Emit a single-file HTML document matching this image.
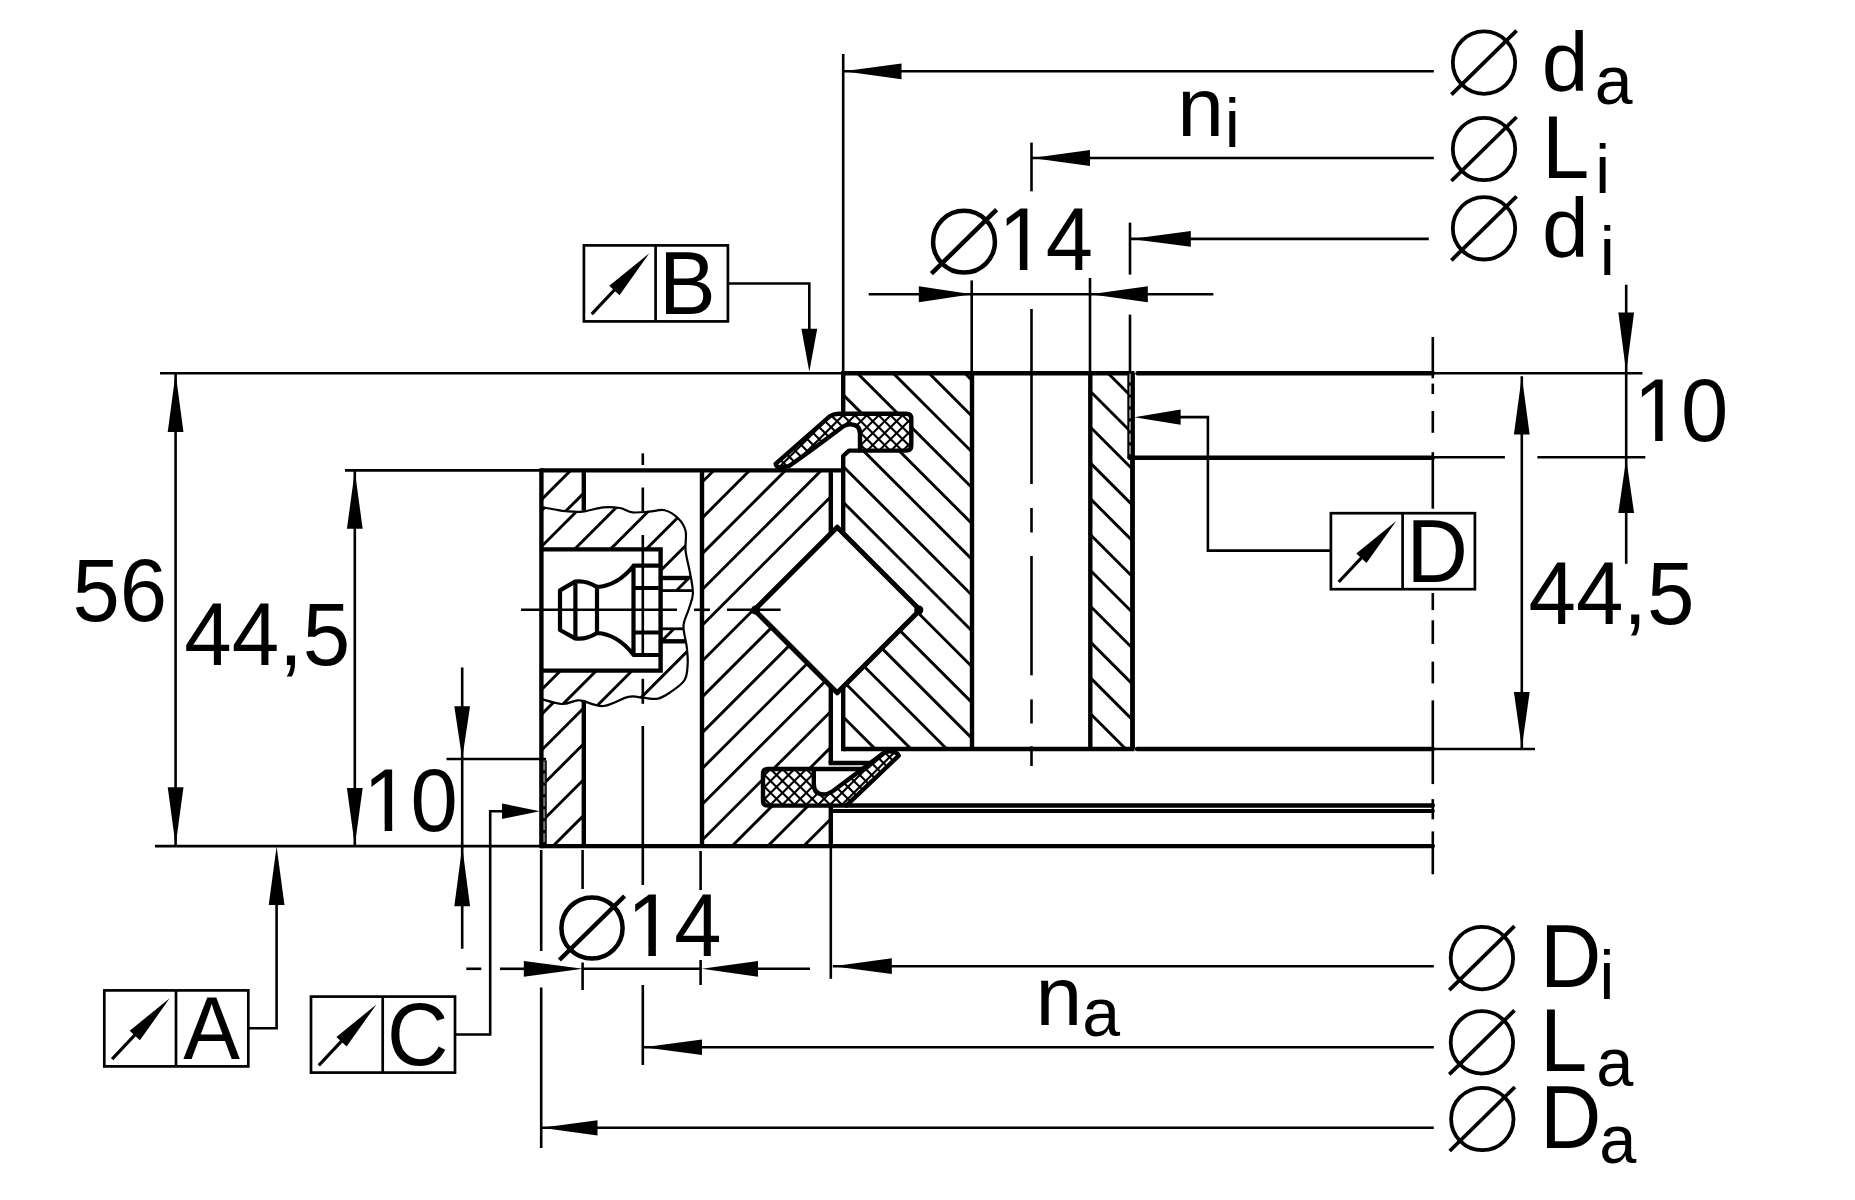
<!DOCTYPE html>
<html><head><meta charset="utf-8"><title>Crossed roller bearing drawing</title>
<style>html,body{margin:0;padding:0;background:#fff;overflow:hidden}svg{display:block}text{font-family:"Liberation Sans",sans-serif;fill:#000;stroke:none}</style>
</head><body>
<svg width="1855" height="1200" viewBox="0 0 1855 1200" stroke="#000" fill="none" stroke-linecap="butt">
<rect x="0" y="0" width="1855" height="1200" fill="#fff" stroke="none"/>
<defs>
<clipPath id="cO1"><path d="M702.0,470.4 L830.8,470.4 L830.8,533.60 L754.40,610.0 L830.8,686.40 L830.8,769 L763,769 L763,806 L830.8,806 L830.8,846.1 L702.0,846.1 Z"/></clipPath>
<clipPath id="cO2"><path d="M541.4,470.4 L583.8,470.4 L583.8,511.6 L565.8,511.2 L555,509.5 L541.4,506.9 Z M541.4,698.9 L561.7,704 L576,700.6 L583.8,700.8 L583.8,846.1 L541.4,846.1 Z"/></clipPath>
<clipPath id="cW"><path d="M541.00,506.90 C543.33,507.33 550.87,508.78 555.00,509.50 C559.13,510.22 561.22,510.85 565.80,511.20 C570.38,511.55 576.25,512.25 582.50,511.60 C588.75,510.95 597.05,507.90 603.30,507.30 C609.55,506.70 615.13,507.17 620.00,508.00 C624.87,508.83 627.67,511.68 632.50,512.30 C637.33,512.92 643.62,512.05 649.00,511.70 C654.38,511.35 659.92,509.07 664.80,510.20 C669.68,511.33 674.83,515.03 678.30,518.50 C681.77,521.97 684.38,525.62 685.60,531.00 C686.82,536.38 684.90,544.02 685.60,550.80 C686.30,557.58 688.58,564.58 689.80,571.70 C691.02,578.82 693.07,587.25 692.90,593.50 C692.73,599.75 690.32,603.82 688.75,609.20 C687.18,614.58 683.84,619.55 683.50,625.80 C683.16,632.05 686.00,640.45 686.70,646.70 C687.40,652.95 688.05,657.75 687.70,663.30 C687.35,668.85 687.55,675.13 684.60,680.00 C681.65,684.87 674.52,689.38 670.00,692.50 C665.48,695.62 662.00,697.88 657.50,698.75 C653.00,699.62 647.87,698.01 643.00,697.70 C638.13,697.39 634.92,695.52 628.30,696.90 C621.68,698.28 610.93,705.35 603.30,706.00 C595.67,706.65 587.05,701.70 582.50,700.80 C577.95,699.90 579.47,700.07 576.00,700.60 C572.53,701.13 567.53,704.28 561.70,704.00 C555.87,703.72 544.45,699.75 541.00,698.90 Z"/></clipPath>
<clipPath id="cWH"><path clip-rule="evenodd" d="M500,480 L720,480 L720,730 L500,730 Z M536.4,549.4 L660.6,549.4 L660.6,590.6 L705,590.6 L705,628.8 L660.6,628.8 L660.6,670.6 L536.4,670.6 Z"/></clipPath>
<clipPath id="cI1"><path d="M843.2,373.3 L972.0,373.3 L972.0,749.0 L843.2,749.0 L843.2,686.80 L920.00,610.0 L843.2,533.20 L843.2,456 L849,450.6 L911.3,450.6 L911.3,413.8 L843.2,413.8 Z"/></clipPath>
<clipPath id="cI2"><rect x="1090.3" y="373.3" width="38.200000000000045" height="84.5"/><rect x="1090.3" y="457.8" width="42.200000000000045" height="291.2"/></clipPath>
<clipPath id="cSU"><path d="M775.6,463.8 L830,416.2 Q834,413.8 838.8,413.8 L906.3,413.8 Q911.3,413.8 911.3,418.8 L911.3,445.6 Q911.3,450.6 906.3,450.6 L860,450.6 L860,433.5 Q860,424.4 850,424.4 Q846,424.4 841,428 Q812,450 788.8,466.2 L780,467.6 Q776,467 775.6,463.8 Z"/></clipPath>
<clipPath id="cSL"><path d="M768,769 L813.8,769 L813.8,784 Q813.8,794.4 823.8,794.4 Q828,794.4 833,791 L885,752 L890,751.2 Q897.5,752 898.8,755.6 L846.3,805.6 L768,805.6 Q763,805.6 763,800.6 L763,774 Q763,769 768,769 Z"/></clipPath>
</defs>
<g clip-path="url(#cO1)" stroke-width="2.9">
<line x1="647.70" y1="465.00" x2="262.70" y2="850.00" stroke-width="2.9" />
<line x1="683.50" y1="465.00" x2="298.50" y2="850.00" stroke-width="2.9" />
<line x1="719.30" y1="465.00" x2="334.30" y2="850.00" stroke-width="2.9" />
<line x1="755.10" y1="465.00" x2="370.10" y2="850.00" stroke-width="2.9" />
<line x1="790.90" y1="465.00" x2="405.90" y2="850.00" stroke-width="2.9" />
<line x1="826.70" y1="465.00" x2="441.70" y2="850.00" stroke-width="2.9" />
<line x1="862.50" y1="465.00" x2="477.50" y2="850.00" stroke-width="2.9" />
<line x1="898.30" y1="465.00" x2="513.30" y2="850.00" stroke-width="2.9" />
<line x1="934.10" y1="465.00" x2="549.10" y2="850.00" stroke-width="2.9" />
<line x1="969.90" y1="465.00" x2="584.90" y2="850.00" stroke-width="2.9" />
<line x1="1005.70" y1="465.00" x2="620.70" y2="850.00" stroke-width="2.9" />
<line x1="1041.50" y1="465.00" x2="656.50" y2="850.00" stroke-width="2.9" />
<line x1="1077.30" y1="465.00" x2="692.30" y2="850.00" stroke-width="2.9" />
<line x1="1113.10" y1="465.00" x2="728.10" y2="850.00" stroke-width="2.9" />
<line x1="1148.90" y1="465.00" x2="763.90" y2="850.00" stroke-width="2.9" />
<line x1="1184.70" y1="465.00" x2="799.70" y2="850.00" stroke-width="2.9" />
<line x1="1220.50" y1="465.00" x2="835.50" y2="850.00" stroke-width="2.9" />
<line x1="1256.30" y1="465.00" x2="871.30" y2="850.00" stroke-width="2.9" />
</g>
<g clip-path="url(#cO2)" stroke-width="2.9">
<line x1="468.70" y1="465.00" x2="83.70" y2="850.00" stroke-width="2.9" />
<line x1="504.50" y1="465.00" x2="119.50" y2="850.00" stroke-width="2.9" />
<line x1="540.30" y1="465.00" x2="155.30" y2="850.00" stroke-width="2.9" />
<line x1="576.10" y1="465.00" x2="191.10" y2="850.00" stroke-width="2.9" />
<line x1="611.90" y1="465.00" x2="226.90" y2="850.00" stroke-width="2.9" />
<line x1="647.70" y1="465.00" x2="262.70" y2="850.00" stroke-width="2.9" />
<line x1="683.50" y1="465.00" x2="298.50" y2="850.00" stroke-width="2.9" />
<line x1="719.30" y1="465.00" x2="334.30" y2="850.00" stroke-width="2.9" />
<line x1="755.10" y1="465.00" x2="370.10" y2="850.00" stroke-width="2.9" />
<line x1="790.90" y1="465.00" x2="405.90" y2="850.00" stroke-width="2.9" />
<line x1="826.70" y1="465.00" x2="441.70" y2="850.00" stroke-width="2.9" />
<line x1="862.50" y1="465.00" x2="477.50" y2="850.00" stroke-width="2.9" />
<line x1="898.30" y1="465.00" x2="513.30" y2="850.00" stroke-width="2.9" />
<line x1="934.10" y1="465.00" x2="549.10" y2="850.00" stroke-width="2.9" />
<line x1="969.90" y1="465.00" x2="584.90" y2="850.00" stroke-width="2.9" />
<line x1="1005.70" y1="465.00" x2="620.70" y2="850.00" stroke-width="2.9" />
<line x1="1041.50" y1="465.00" x2="656.50" y2="850.00" stroke-width="2.9" />
</g>
<g clip-path="url(#cWH)">
<g clip-path="url(#cW)" stroke-width="2.9">
<line x1="480.60" y1="500.00" x2="270.60" y2="710.00" stroke-width="2.9" />
<line x1="516.40" y1="500.00" x2="306.40" y2="710.00" stroke-width="2.9" />
<line x1="552.20" y1="500.00" x2="342.20" y2="710.00" stroke-width="2.9" />
<line x1="588.00" y1="500.00" x2="378.00" y2="710.00" stroke-width="2.9" />
<line x1="623.80" y1="500.00" x2="413.80" y2="710.00" stroke-width="2.9" />
<line x1="659.60" y1="500.00" x2="449.60" y2="710.00" stroke-width="2.9" />
<line x1="695.40" y1="500.00" x2="485.40" y2="710.00" stroke-width="2.9" />
<line x1="731.20" y1="500.00" x2="521.20" y2="710.00" stroke-width="2.9" />
<line x1="767.00" y1="500.00" x2="557.00" y2="710.00" stroke-width="2.9" />
<line x1="802.80" y1="500.00" x2="592.80" y2="710.00" stroke-width="2.9" />
<line x1="838.60" y1="500.00" x2="628.60" y2="710.00" stroke-width="2.9" />
<line x1="874.40" y1="500.00" x2="664.40" y2="710.00" stroke-width="2.9" />
<line x1="910.20" y1="500.00" x2="700.20" y2="710.00" stroke-width="2.9" />
<line x1="946.00" y1="500.00" x2="736.00" y2="710.00" stroke-width="2.9" />
</g>
</g>
<g clip-path="url(#cI1)" stroke-width="2.9">
<line x1="388.80" y1="370.00" x2="770.80" y2="752.00" stroke-width="2.9" />
<line x1="424.60" y1="370.00" x2="806.60" y2="752.00" stroke-width="2.9" />
<line x1="460.40" y1="370.00" x2="842.40" y2="752.00" stroke-width="2.9" />
<line x1="496.20" y1="370.00" x2="878.20" y2="752.00" stroke-width="2.9" />
<line x1="532.00" y1="370.00" x2="914.00" y2="752.00" stroke-width="2.9" />
<line x1="567.80" y1="370.00" x2="949.80" y2="752.00" stroke-width="2.9" />
<line x1="603.60" y1="370.00" x2="985.60" y2="752.00" stroke-width="2.9" />
<line x1="639.40" y1="370.00" x2="1021.40" y2="752.00" stroke-width="2.9" />
<line x1="675.20" y1="370.00" x2="1057.20" y2="752.00" stroke-width="2.9" />
<line x1="711.00" y1="370.00" x2="1093.00" y2="752.00" stroke-width="2.9" />
<line x1="746.80" y1="370.00" x2="1128.80" y2="752.00" stroke-width="2.9" />
<line x1="782.60" y1="370.00" x2="1164.60" y2="752.00" stroke-width="2.9" />
<line x1="818.40" y1="370.00" x2="1200.40" y2="752.00" stroke-width="2.9" />
<line x1="854.20" y1="370.00" x2="1236.20" y2="752.00" stroke-width="2.9" />
<line x1="890.00" y1="370.00" x2="1272.00" y2="752.00" stroke-width="2.9" />
<line x1="925.80" y1="370.00" x2="1307.80" y2="752.00" stroke-width="2.9" />
<line x1="961.60" y1="370.00" x2="1343.60" y2="752.00" stroke-width="2.9" />
<line x1="997.40" y1="370.00" x2="1379.40" y2="752.00" stroke-width="2.9" />
<line x1="1033.20" y1="370.00" x2="1415.20" y2="752.00" stroke-width="2.9" />
</g>
<g clip-path="url(#cI2)" stroke-width="2.9">
<line x1="639.40" y1="370.00" x2="1021.40" y2="752.00" stroke-width="2.9" />
<line x1="675.20" y1="370.00" x2="1057.20" y2="752.00" stroke-width="2.9" />
<line x1="711.00" y1="370.00" x2="1093.00" y2="752.00" stroke-width="2.9" />
<line x1="746.80" y1="370.00" x2="1128.80" y2="752.00" stroke-width="2.9" />
<line x1="782.60" y1="370.00" x2="1164.60" y2="752.00" stroke-width="2.9" />
<line x1="818.40" y1="370.00" x2="1200.40" y2="752.00" stroke-width="2.9" />
<line x1="854.20" y1="370.00" x2="1236.20" y2="752.00" stroke-width="2.9" />
<line x1="890.00" y1="370.00" x2="1272.00" y2="752.00" stroke-width="2.9" />
<line x1="925.80" y1="370.00" x2="1307.80" y2="752.00" stroke-width="2.9" />
<line x1="961.60" y1="370.00" x2="1343.60" y2="752.00" stroke-width="2.9" />
<line x1="997.40" y1="370.00" x2="1379.40" y2="752.00" stroke-width="2.9" />
<line x1="1033.20" y1="370.00" x2="1415.20" y2="752.00" stroke-width="2.9" />
<line x1="1069.00" y1="370.00" x2="1451.00" y2="752.00" stroke-width="2.9" />
<line x1="1104.80" y1="370.00" x2="1486.80" y2="752.00" stroke-width="2.9" />
<line x1="1140.60" y1="370.00" x2="1522.60" y2="752.00" stroke-width="2.9" />
<line x1="1176.40" y1="370.00" x2="1558.40" y2="752.00" stroke-width="2.9" />
</g>
<path d="M775.6,463.8 L830,416.2 Q834,413.8 838.8,413.8 L906.3,413.8 Q911.3,413.8 911.3,418.8 L911.3,445.6 Q911.3,450.6 906.3,450.6 L860,450.6 L860,433.5 Q860,424.4 850,424.4 Q846,424.4 841,428 Q812,450 788.8,466.2 L780,467.6 Q776,467 775.6,463.8 Z" stroke-width="0" fill="#fff" stroke="none"/>
<g clip-path="url(#cSU)" stroke-width="2.1">
<line x1="753.10" y1="410.00" x2="693.10" y2="470.00" stroke-width="2.1" />
<line x1="765.00" y1="410.00" x2="705.00" y2="470.00" stroke-width="2.1" />
<line x1="776.90" y1="410.00" x2="716.90" y2="470.00" stroke-width="2.1" />
<line x1="788.80" y1="410.00" x2="728.80" y2="470.00" stroke-width="2.1" />
<line x1="800.70" y1="410.00" x2="740.70" y2="470.00" stroke-width="2.1" />
<line x1="812.60" y1="410.00" x2="752.60" y2="470.00" stroke-width="2.1" />
<line x1="824.50" y1="410.00" x2="764.50" y2="470.00" stroke-width="2.1" />
<line x1="836.40" y1="410.00" x2="776.40" y2="470.00" stroke-width="2.1" />
<line x1="848.30" y1="410.00" x2="788.30" y2="470.00" stroke-width="2.1" />
<line x1="860.20" y1="410.00" x2="800.20" y2="470.00" stroke-width="2.1" />
<line x1="872.10" y1="410.00" x2="812.10" y2="470.00" stroke-width="2.1" />
<line x1="884.00" y1="410.00" x2="824.00" y2="470.00" stroke-width="2.1" />
<line x1="895.90" y1="410.00" x2="835.90" y2="470.00" stroke-width="2.1" />
<line x1="907.80" y1="410.00" x2="847.80" y2="470.00" stroke-width="2.1" />
<line x1="919.70" y1="410.00" x2="859.70" y2="470.00" stroke-width="2.1" />
<line x1="931.60" y1="410.00" x2="871.60" y2="470.00" stroke-width="2.1" />
<line x1="943.50" y1="410.00" x2="883.50" y2="470.00" stroke-width="2.1" />
<line x1="955.40" y1="410.00" x2="895.40" y2="470.00" stroke-width="2.1" />
<line x1="967.30" y1="410.00" x2="907.30" y2="470.00" stroke-width="2.1" />
<line x1="979.20" y1="410.00" x2="919.20" y2="470.00" stroke-width="2.1" />
<line x1="991.10" y1="410.00" x2="931.10" y2="470.00" stroke-width="2.1" />
</g>
<g clip-path="url(#cSU)" stroke-width="2.1">
<line x1="694.90" y1="410.00" x2="754.90" y2="470.00" stroke-width="2.1" />
<line x1="706.80" y1="410.00" x2="766.80" y2="470.00" stroke-width="2.1" />
<line x1="718.70" y1="410.00" x2="778.70" y2="470.00" stroke-width="2.1" />
<line x1="730.60" y1="410.00" x2="790.60" y2="470.00" stroke-width="2.1" />
<line x1="742.50" y1="410.00" x2="802.50" y2="470.00" stroke-width="2.1" />
<line x1="754.40" y1="410.00" x2="814.40" y2="470.00" stroke-width="2.1" />
<line x1="766.30" y1="410.00" x2="826.30" y2="470.00" stroke-width="2.1" />
<line x1="778.20" y1="410.00" x2="838.20" y2="470.00" stroke-width="2.1" />
<line x1="790.10" y1="410.00" x2="850.10" y2="470.00" stroke-width="2.1" />
<line x1="802.00" y1="410.00" x2="862.00" y2="470.00" stroke-width="2.1" />
<line x1="813.90" y1="410.00" x2="873.90" y2="470.00" stroke-width="2.1" />
<line x1="825.80" y1="410.00" x2="885.80" y2="470.00" stroke-width="2.1" />
<line x1="837.70" y1="410.00" x2="897.70" y2="470.00" stroke-width="2.1" />
<line x1="849.60" y1="410.00" x2="909.60" y2="470.00" stroke-width="2.1" />
<line x1="861.50" y1="410.00" x2="921.50" y2="470.00" stroke-width="2.1" />
<line x1="873.40" y1="410.00" x2="933.40" y2="470.00" stroke-width="2.1" />
<line x1="885.30" y1="410.00" x2="945.30" y2="470.00" stroke-width="2.1" />
<line x1="897.20" y1="410.00" x2="957.20" y2="470.00" stroke-width="2.1" />
<line x1="909.10" y1="410.00" x2="969.10" y2="470.00" stroke-width="2.1" />
<line x1="921.00" y1="410.00" x2="981.00" y2="470.00" stroke-width="2.1" />
<line x1="932.90" y1="410.00" x2="992.90" y2="470.00" stroke-width="2.1" />
</g>
<path d="M775.6,463.8 L830,416.2 Q834,413.8 838.8,413.8 L906.3,413.8 Q911.3,413.8 911.3,418.8 L911.3,445.6 Q911.3,450.6 906.3,450.6 L860,450.6 L860,433.5 Q860,424.4 850,424.4 Q846,424.4 841,428 Q812,450 788.8,466.2 L780,467.6 Q776,467 775.6,463.8 Z" stroke-width="4.4" fill="none" stroke-linejoin="round"/>
<path d="M768,769 L865,769 L885,752 L890,751.2 Q897.5,752 898.8,755.6 L846.3,805.6 L768,805.6 Q763,805.6 763,800.6 L763,774 Q763,769 768,769 Z" stroke-width="0" fill="#fff" stroke="none"/>
<g clip-path="url(#cSL)" stroke-width="2.1">
<line x1="742.00" y1="750.00" x2="684.00" y2="808.00" stroke-width="2.1" />
<line x1="753.90" y1="750.00" x2="695.90" y2="808.00" stroke-width="2.1" />
<line x1="765.80" y1="750.00" x2="707.80" y2="808.00" stroke-width="2.1" />
<line x1="777.70" y1="750.00" x2="719.70" y2="808.00" stroke-width="2.1" />
<line x1="789.60" y1="750.00" x2="731.60" y2="808.00" stroke-width="2.1" />
<line x1="801.50" y1="750.00" x2="743.50" y2="808.00" stroke-width="2.1" />
<line x1="813.40" y1="750.00" x2="755.40" y2="808.00" stroke-width="2.1" />
<line x1="825.30" y1="750.00" x2="767.30" y2="808.00" stroke-width="2.1" />
<line x1="837.20" y1="750.00" x2="779.20" y2="808.00" stroke-width="2.1" />
<line x1="849.10" y1="750.00" x2="791.10" y2="808.00" stroke-width="2.1" />
<line x1="861.00" y1="750.00" x2="803.00" y2="808.00" stroke-width="2.1" />
<line x1="872.90" y1="750.00" x2="814.90" y2="808.00" stroke-width="2.1" />
<line x1="884.80" y1="750.00" x2="826.80" y2="808.00" stroke-width="2.1" />
<line x1="896.70" y1="750.00" x2="838.70" y2="808.00" stroke-width="2.1" />
<line x1="908.60" y1="750.00" x2="850.60" y2="808.00" stroke-width="2.1" />
<line x1="920.50" y1="750.00" x2="862.50" y2="808.00" stroke-width="2.1" />
<line x1="932.40" y1="750.00" x2="874.40" y2="808.00" stroke-width="2.1" />
<line x1="944.30" y1="750.00" x2="886.30" y2="808.00" stroke-width="2.1" />
<line x1="956.20" y1="750.00" x2="898.20" y2="808.00" stroke-width="2.1" />
<line x1="968.10" y1="750.00" x2="910.10" y2="808.00" stroke-width="2.1" />
<line x1="980.00" y1="750.00" x2="922.00" y2="808.00" stroke-width="2.1" />
</g>
<g clip-path="url(#cSL)" stroke-width="2.1">
<line x1="680.10" y1="750.00" x2="738.10" y2="808.00" stroke-width="2.1" />
<line x1="692.00" y1="750.00" x2="750.00" y2="808.00" stroke-width="2.1" />
<line x1="703.90" y1="750.00" x2="761.90" y2="808.00" stroke-width="2.1" />
<line x1="715.80" y1="750.00" x2="773.80" y2="808.00" stroke-width="2.1" />
<line x1="727.70" y1="750.00" x2="785.70" y2="808.00" stroke-width="2.1" />
<line x1="739.60" y1="750.00" x2="797.60" y2="808.00" stroke-width="2.1" />
<line x1="751.50" y1="750.00" x2="809.50" y2="808.00" stroke-width="2.1" />
<line x1="763.40" y1="750.00" x2="821.40" y2="808.00" stroke-width="2.1" />
<line x1="775.30" y1="750.00" x2="833.30" y2="808.00" stroke-width="2.1" />
<line x1="787.20" y1="750.00" x2="845.20" y2="808.00" stroke-width="2.1" />
<line x1="799.10" y1="750.00" x2="857.10" y2="808.00" stroke-width="2.1" />
<line x1="811.00" y1="750.00" x2="869.00" y2="808.00" stroke-width="2.1" />
<line x1="822.90" y1="750.00" x2="880.90" y2="808.00" stroke-width="2.1" />
<line x1="834.80" y1="750.00" x2="892.80" y2="808.00" stroke-width="2.1" />
<line x1="846.70" y1="750.00" x2="904.70" y2="808.00" stroke-width="2.1" />
<line x1="858.60" y1="750.00" x2="916.60" y2="808.00" stroke-width="2.1" />
<line x1="870.50" y1="750.00" x2="928.50" y2="808.00" stroke-width="2.1" />
<line x1="882.40" y1="750.00" x2="940.40" y2="808.00" stroke-width="2.1" />
<line x1="894.30" y1="750.00" x2="952.30" y2="808.00" stroke-width="2.1" />
<line x1="906.20" y1="750.00" x2="964.20" y2="808.00" stroke-width="2.1" />
<line x1="918.10" y1="750.00" x2="976.10" y2="808.00" stroke-width="2.1" />
</g>
<path d="M768,769 L865,769 L885,752 L890,751.2 Q897.5,752 898.8,755.6 L846.3,805.6 L768,805.6 Q763,805.6 763,800.6 L763,774 Q763,769 768,769 Z" stroke-width="4.4" fill="none" stroke-linejoin="round"/>
<path d="M813.8,769 L813.8,784 Q813.8,794.4 823.8,794.4 Q828,794.4 833,791 L885,752" stroke-width="4.4" fill="none" />
<line x1="541.40" y1="468.20" x2="541.40" y2="848.30" stroke-width="4.4" />
<line x1="541.40" y1="470.40" x2="843.20" y2="470.40" stroke-width="4.4" />
<line x1="541.40" y1="846.10" x2="1432.80" y2="846.10" stroke-width="4.4" stroke-linecap="round"/>
<line x1="583.80" y1="470.40" x2="583.80" y2="510.60" stroke-width="4.4" />
<line x1="583.80" y1="700.50" x2="583.80" y2="846.10" stroke-width="4.4" />
<line x1="702.00" y1="470.40" x2="702.00" y2="846.10" stroke-width="4.4" />
<line x1="830.80" y1="470.40" x2="830.80" y2="533.60" stroke-width="4.4" />
<line x1="830.80" y1="686.40" x2="830.80" y2="763.00" stroke-width="4.4" />
<line x1="828.60" y1="763.00" x2="871.00" y2="763.00" stroke-width="4.4" />
<line x1="830.80" y1="803.50" x2="830.80" y2="846.10" stroke-width="4.4" />
<line x1="843.20" y1="371.10" x2="843.20" y2="412.00" stroke-width="4.4" />
<path d="M860,450.6 L849,450.6 L843.2,456 L843.2,533.20" stroke-width="4.4" fill="none" stroke-linejoin="round"/>
<line x1="843.20" y1="686.80" x2="843.20" y2="751.20" stroke-width="4.4" />
<line x1="843.20" y1="373.30" x2="1134.50" y2="373.30" stroke-width="4.4" />
<line x1="843.20" y1="749.00" x2="1134.50" y2="749.00" stroke-width="4.4" />
<line x1="972.00" y1="373.30" x2="972.00" y2="749.00" stroke-width="4.4" />
<line x1="1090.30" y1="373.30" x2="1090.30" y2="749.00" stroke-width="4.4" />
<line x1="1132.50" y1="373.30" x2="1132.50" y2="749.00" stroke-width="4.4" />
<path d="M837.2,527.2 L920.0,610.0 L837.2,692.8 L754.4000000000001,610.0 Z" stroke-width="5.0" fill="none" stroke-linejoin="round"/>
<circle cx="755.60" cy="610.0" r="4.6" fill="#000" stroke="none"/>
<circle cx="918.80" cy="610.0" r="4.6" fill="#000" stroke="none"/>
<line x1="1137.50" y1="373.30" x2="1432.80" y2="373.30" stroke-width="4.4" stroke-linecap="round"/>
<line x1="1129.60" y1="457.80" x2="1432.80" y2="457.80" stroke-width="4.4" stroke-linecap="round"/>
<line x1="1137.00" y1="749.00" x2="1432.80" y2="749.00" stroke-width="4.4" stroke-linecap="round"/>
<line x1="846.00" y1="805.50" x2="1432.80" y2="805.50" stroke-width="4.4" stroke-linecap="round"/>
<line x1="830.80" y1="811.10" x2="1432.80" y2="811.10" stroke-width="4.0" stroke-linecap="round"/>
<rect x="1127.3" y="373.3" width="4" height="85.10" fill="#000" stroke="none"/>
<line x1="1132.50" y1="373.30" x2="1132.50" y2="749.00" stroke-width="4.4" />
<line x1="1130.05" y1="373.70" x2="1130.05" y2="455.80" stroke-width="1.9" stroke="#8a8a8a" stroke-dasharray="8.8 3.15"/>
<rect x="543" y="760.3" width="3.75" height="85.80" fill="#000" stroke="none"/>
<line x1="544.20" y1="761.50" x2="544.20" y2="843.90" stroke-width="2.0" stroke="#777" stroke-dasharray="8.8 3.15"/>
<path d="M541.00,506.90 C543.33,507.33 550.87,508.78 555.00,509.50 C559.13,510.22 561.22,510.85 565.80,511.20 C570.38,511.55 576.25,512.25 582.50,511.60 C588.75,510.95 597.05,507.90 603.30,507.30 C609.55,506.70 615.13,507.17 620.00,508.00 C624.87,508.83 627.67,511.68 632.50,512.30 C637.33,512.92 643.62,512.05 649.00,511.70 C654.38,511.35 659.92,509.07 664.80,510.20 C669.68,511.33 674.83,515.03 678.30,518.50 C681.77,521.97 684.38,525.62 685.60,531.00 C686.82,536.38 684.90,544.02 685.60,550.80 C686.30,557.58 688.58,564.58 689.80,571.70 C691.02,578.82 693.07,587.25 692.90,593.50 C692.73,599.75 690.32,603.82 688.75,609.20 C687.18,614.58 683.84,619.55 683.50,625.80 C683.16,632.05 686.00,640.45 686.70,646.70 C687.40,652.95 688.05,657.75 687.70,663.30 C687.35,668.85 687.55,675.13 684.60,680.00 C681.65,684.87 674.52,689.38 670.00,692.50 C665.48,695.62 662.00,697.88 657.50,698.75 C653.00,699.62 647.87,698.01 643.00,697.70 C638.13,697.39 634.92,695.52 628.30,696.90 C621.68,698.28 610.93,705.35 603.30,706.00 C595.67,706.65 587.05,701.70 582.50,700.80 C577.95,699.90 579.47,700.07 576.00,700.60 C572.53,701.13 567.53,704.28 561.70,704.00 C555.87,703.72 544.45,699.75 541.00,698.90" stroke-width="2.2" fill="none" />
<path d="M541.4,549.4 L660.6,549.4 L660.6,670.6 L541.4,670.6" stroke-width="4.4" fill="none" stroke-linejoin="miter"/>
<line x1="660.60" y1="578.00" x2="689.00" y2="578.00" stroke-width="4.4" />
<line x1="660.60" y1="590.60" x2="692.00" y2="590.60" stroke-width="2.8" />
<line x1="660.60" y1="628.80" x2="684.00" y2="628.80" stroke-width="2.8" />
<line x1="660.60" y1="641.30" x2="686.00" y2="641.30" stroke-width="4.4" />
<path d="M633.5,565.6 L658.8,565.6 M633.5,655 L658.8,655 M633.5,565.6 L633.5,655 M633.5,566 Q617,586 597,587 M633.5,654.6 Q617,634 597,633 M597,586.5 L597,633.5 M575.4,582 L575.4,638 M597,587 Q586,580 575,581.6 L560,590.4 L560,630 L575,638.4 Q586,640 597,633" stroke-width="4.2" fill="none" stroke-linejoin="round" stroke-linecap="round"/>
<line x1="633.50" y1="588.00" x2="658.80" y2="588.00" stroke-width="4.0" />
<line x1="633.50" y1="632.50" x2="658.80" y2="632.50" stroke-width="4.0" />
<line x1="521.00" y1="609.80" x2="677.00" y2="609.80" stroke-width="2.6" />
<line x1="694.00" y1="609.80" x2="710.00" y2="609.80" stroke-width="2.6" />
<line x1="727.00" y1="609.80" x2="780.60" y2="609.80" stroke-width="2.6" />
<line x1="642.80" y1="453.30" x2="642.80" y2="465.00" stroke-width="2.6" />
<line x1="642.80" y1="487.50" x2="642.80" y2="511.00" stroke-width="2.6" />
<line x1="642.80" y1="535.00" x2="642.80" y2="654.00" stroke-width="2.6" />
<line x1="642.80" y1="678.80" x2="642.80" y2="703.80" stroke-width="2.6" />
<line x1="642.80" y1="726.00" x2="642.80" y2="885.00" stroke-width="2.6" />
<line x1="642.80" y1="985.00" x2="642.80" y2="1065.00" stroke-width="2.6" />
<line x1="1031.50" y1="142.60" x2="1031.50" y2="191.30" stroke-width="2.6" />
<line x1="1031.50" y1="309.00" x2="1031.50" y2="484.00" stroke-width="2.6" />
<line x1="1031.50" y1="508.00" x2="1031.50" y2="532.50" stroke-width="2.6" />
<line x1="1031.50" y1="556.00" x2="1031.50" y2="675.30" stroke-width="2.6" />
<line x1="1031.50" y1="699.40" x2="1031.50" y2="723.50" stroke-width="2.6" />
<line x1="1031.50" y1="746.30" x2="1031.50" y2="766.00" stroke-width="2.6" />
<line x1="1432.80" y1="337.00" x2="1432.80" y2="378.20" stroke-width="2.6" />
<line x1="1432.80" y1="383.60" x2="1432.80" y2="394.00" stroke-width="2.6" />
<line x1="1432.80" y1="411.00" x2="1432.80" y2="432.80" stroke-width="2.6" />
<line x1="1432.80" y1="452.20" x2="1432.80" y2="508.70" stroke-width="2.6" />
<line x1="1432.80" y1="593.00" x2="1432.80" y2="610.10" stroke-width="2.6" />
<line x1="1432.80" y1="620.30" x2="1432.80" y2="643.90" stroke-width="2.6" />
<line x1="1432.80" y1="661.60" x2="1432.80" y2="683.40" stroke-width="2.6" />
<line x1="1432.80" y1="700.40" x2="1432.80" y2="784.10" stroke-width="2.6" />
<line x1="1432.80" y1="799.10" x2="1432.80" y2="819.30" stroke-width="2.6" />
<line x1="1432.80" y1="831.40" x2="1432.80" y2="874.30" stroke-width="2.6" />
<line x1="160.00" y1="373.30" x2="843.20" y2="373.30" stroke-width="2.6" />
<line x1="155.00" y1="846.10" x2="541.40" y2="846.10" stroke-width="2.6" />
<line x1="175.60" y1="373.30" x2="175.60" y2="846.10" stroke-width="2.6" />
<polygon points="175.60,373.30 183.47,432.00 167.72,432.00" fill="#000" stroke="none"/>
<polygon points="175.60,845.60 167.72,787.20 183.47,787.20" fill="#000" stroke="none"/>
<text transform="translate(72.50,621.40) scale(1,1.04)" font-size="85" >56</text>
<line x1="345.00" y1="470.40" x2="541.40" y2="470.40" stroke-width="2.6" />
<line x1="354.80" y1="470.40" x2="354.80" y2="846.10" stroke-width="2.6" />
<polygon points="354.80,470.90 362.68,528.80 346.93,528.80" fill="#000" stroke="none"/>
<polygon points="354.80,845.60 346.93,788.00 362.68,788.00" fill="#000" stroke="none"/>
<text transform="translate(184.20,664.90) scale(1,1.036)" font-size="85.3" >44,5</text>
<line x1="446.50" y1="759.00" x2="546.00" y2="759.00" stroke-width="2.6" />
<line x1="462.20" y1="667.50" x2="462.20" y2="948.80" stroke-width="2.6" />
<polygon points="462.20,758.80 454.32,706.20 470.07,706.20" fill="#000" stroke="none"/>
<polygon points="462.20,846.60 470.07,906.20 454.32,906.20" fill="#000" stroke="none"/>
<text transform="translate(363.30,831.40) scale(1,1.04)" font-size="85" >10</text>
<rect x="368.49" y="824.00" width="16.19" height="8.80" fill="#fff" stroke="none"/>
<rect x="392.19" y="824.00" width="15.52" height="8.80" fill="#fff" stroke="none"/>
<path d="M455,1034.5 L490.2,1034.5 L490.2,811.2 L503,811.2" stroke-width="2.6" fill="none" stroke-linejoin="miter"/>
<polygon points="539.80,811.20 502.00,818.95 502.00,803.45" fill="#000" stroke="none"/>
<path d="M248.2,1028.3 L276.6,1028.3 L276.6,891.1" stroke-width="2.6" fill="none" />
<polygon points="276.60,846.60 284.48,905.00 268.73,905.00" fill="#000" stroke="none"/>
<path d="M728.5,283.5 L809.3,283.5 L809.3,330" stroke-width="2.6" fill="none" />
<polygon points="809.30,371.80 801.40,328.80 817.20,328.80" fill="#000" stroke="none"/>
<path d="M1330.9,550.6 L1207.9,550.6 L1207.9,417.1 L1180,417.1" stroke-width="2.6" fill="none" />
<polygon points="1134.30,417.20 1180.60,409.55 1180.60,424.85" fill="#000" stroke="none"/>
<rect x="583.9" y="245.4" width="144" height="76" fill="none" stroke-width="2.7"/>
<line x1="655.60" y1="245.40" x2="655.60" y2="321.40" stroke-width="2.7" />
<line x1="591.70" y1="314.20" x2="621.90" y2="282.00" stroke-width="3.2" />
<polygon points="649.30,253.30 619.51,295.28 609.30,285.70" fill="#000" stroke="none"/>
<text transform="translate(659.10,314.00) scale(1,1.04)" font-size="85" >B</text>
<rect x="104.3" y="990.4" width="144" height="76" fill="none" stroke-width="2.7"/>
<line x1="176.00" y1="990.40" x2="176.00" y2="1066.40" stroke-width="2.7" />
<line x1="112.10" y1="1059.20" x2="142.30" y2="1027.00" stroke-width="3.2" />
<polygon points="169.70,998.30 139.91,1040.28 129.70,1030.70" fill="#000" stroke="none"/>
<text transform="translate(183.20,1059.00) scale(1,1.04)" font-size="85" >A</text>
<rect x="311.0" y="996.6" width="144" height="76" fill="none" stroke-width="2.7"/>
<line x1="382.70" y1="996.60" x2="382.70" y2="1072.60" stroke-width="2.7" />
<line x1="318.80" y1="1065.40" x2="349.00" y2="1033.20" stroke-width="3.2" />
<polygon points="376.40,1004.50 346.61,1046.48 336.40,1036.90" fill="#000" stroke="none"/>
<text transform="translate(387.00,1065.20) scale(1,1.04)" font-size="85" >C</text>
<rect x="1330.9" y="513.2" width="144" height="76" fill="none" stroke-width="2.7"/>
<line x1="1402.60" y1="513.20" x2="1402.60" y2="589.20" stroke-width="2.7" />
<line x1="1338.70" y1="582.00" x2="1368.90" y2="549.80" stroke-width="3.2" />
<polygon points="1396.30,521.10 1366.51,563.08 1356.30,553.50" fill="#000" stroke="none"/>
<text transform="translate(1406.60,581.80) scale(1,1.04)" font-size="85" >D</text>
<line x1="843.20" y1="54.00" x2="843.20" y2="373.30" stroke-width="2.6" />
<line x1="843.20" y1="71.30" x2="1433.80" y2="71.30" stroke-width="2.6" />
<polygon points="843.50,71.30 901.50,63.42 901.50,79.17" fill="#000" stroke="none"/>
<line x1="1031.50" y1="158.00" x2="1433.80" y2="158.00" stroke-width="2.6" />
<polygon points="1031.80,158.00 1090.00,150.12 1090.00,165.88" fill="#000" stroke="none"/>
<line x1="1130.00" y1="222.60" x2="1130.00" y2="274.60" stroke-width="2.6" />
<line x1="1130.00" y1="314.60" x2="1130.00" y2="373.30" stroke-width="2.6" />
<line x1="1130.00" y1="238.90" x2="1428.80" y2="238.90" stroke-width="2.6" />
<polygon points="1131.00,238.90 1190.80,231.03 1190.80,246.78" fill="#000" stroke="none"/>
<line x1="868.70" y1="294.20" x2="1213.40" y2="294.20" stroke-width="2.6" />
<polygon points="972.00,294.20 918.80,302.20 918.80,286.20" fill="#000" stroke="none"/>
<polygon points="1090.30,294.20 1147.80,286.20 1147.80,302.20" fill="#000" stroke="none"/>
<line x1="971.70" y1="280.40" x2="971.70" y2="373.30" stroke-width="2.6" />
<line x1="1090.00" y1="278.00" x2="1090.00" y2="373.30" stroke-width="2.6" />
<circle cx="964.00" cy="241.70" r="30.9" stroke-width="4.5" fill="none"/>
<line x1="931.40" y1="273.70" x2="996.60" y2="209.70" stroke-width="4.5" />
<text transform="translate(998.50,270.10) scale(1,1.04)" font-size="85" >14</text>
<rect x="1003.69" y="262.70" width="16.19" height="8.80" fill="#fff" stroke="none"/>
<rect x="1027.39" y="262.70" width="15.52" height="8.80" fill="#fff" stroke="none"/>
<text transform="translate(1177.30,136.20)" font-size="84">n<tspan x="47.35" y="11.10" font-size="68.0">i</tspan></text>
<circle cx="1484.00" cy="62.60" r="31.2" stroke-width="3.8" fill="none"/>
<line x1="1451.40" y1="94.60" x2="1516.60" y2="30.60" stroke-width="3.8" />
<circle cx="1484.00" cy="149.00" r="31.2" stroke-width="3.8" fill="none"/>
<line x1="1451.40" y1="181.00" x2="1516.60" y2="117.00" stroke-width="3.8" />
<circle cx="1484.00" cy="228.30" r="31.2" stroke-width="3.8" fill="none"/>
<line x1="1451.40" y1="260.30" x2="1516.60" y2="196.30" stroke-width="3.8" />
<text transform="translate(1541.80,91.30)" font-size="84">d<tspan x="53.00" y="13.10" font-size="68.0">a</tspan></text>
<text transform="translate(1542.10,178.10) scale(1,1.04)" font-size="85">L<tspan x="53.20" y="14.71" font-size="66.7">i</tspan></text>
<text transform="translate(1542.00,257.10)" font-size="84">d<tspan x="57.85" y="18.30" font-size="68.0">i</tspan></text>
<line x1="1432.80" y1="373.30" x2="1642.40" y2="373.30" stroke-width="2.6" />
<line x1="1432.80" y1="457.20" x2="1504.90" y2="457.20" stroke-width="2.6" />
<line x1="1537.40" y1="457.20" x2="1645.30" y2="457.20" stroke-width="2.6" />
<line x1="1626.20" y1="284.70" x2="1626.20" y2="563.80" stroke-width="2.6" />
<polygon points="1626.20,372.30 1618.33,312.50 1634.08,312.50" fill="#000" stroke="none"/>
<polygon points="1626.20,458.80 1634.08,512.90 1618.33,512.90" fill="#000" stroke="none"/>
<text transform="translate(1633.80,441.20) scale(1,1.04)" font-size="85" >10</text>
<rect x="1638.99" y="433.80" width="16.19" height="8.80" fill="#fff" stroke="none"/>
<rect x="1662.69" y="433.80" width="15.52" height="8.80" fill="#fff" stroke="none"/>
<line x1="1521.80" y1="376.30" x2="1521.80" y2="749.00" stroke-width="2.6" />
<polygon points="1521.80,376.30 1529.67,434.50 1513.92,434.50" fill="#000" stroke="none"/>
<polygon points="1521.80,747.80 1513.92,691.90 1529.67,691.90" fill="#000" stroke="none"/>
<line x1="1432.80" y1="749.00" x2="1535.00" y2="749.00" stroke-width="2.6" />
<text transform="translate(1528.50,624.40) scale(1,1.036)" font-size="85.3" >44,5</text>
<line x1="541.20" y1="850.00" x2="541.20" y2="951.00" stroke-width="2.6" />
<line x1="541.20" y1="987.50" x2="541.20" y2="1148.00" stroke-width="2.6" />
<line x1="582.60" y1="850.00" x2="582.60" y2="889.00" stroke-width="2.6" />
<line x1="582.60" y1="962.50" x2="582.60" y2="990.00" stroke-width="2.6" />
<line x1="700.60" y1="851.00" x2="700.60" y2="890.00" stroke-width="2.6" />
<line x1="700.60" y1="960.00" x2="700.60" y2="985.00" stroke-width="2.6" />
<line x1="830.80" y1="846.10" x2="830.80" y2="978.80" stroke-width="2.6" />
<line x1="466.30" y1="968.80" x2="481.30" y2="968.80" stroke-width="2.6" />
<line x1="500.00" y1="968.80" x2="524.00" y2="968.80" stroke-width="2.6" />
<line x1="582.50" y1="968.80" x2="701.00" y2="968.80" stroke-width="2.6" />
<line x1="757.00" y1="968.80" x2="810.00" y2="968.80" stroke-width="2.6" />
<polygon points="582.80,968.80 523.80,976.67 523.80,960.92" fill="#000" stroke="none"/>
<polygon points="701.80,968.80 758.00,960.92 758.00,976.67" fill="#000" stroke="none"/>
<circle cx="592.00" cy="928.00" r="30.6" stroke-width="4.5" fill="none"/>
<line x1="559.40" y1="960.00" x2="624.60" y2="896.00" stroke-width="4.5" />
<text transform="translate(627.00,956.00) scale(1,1.04)" font-size="85" >14</text>
<rect x="632.19" y="948.60" width="16.19" height="8.80" fill="#fff" stroke="none"/>
<rect x="655.89" y="948.60" width="15.52" height="8.80" fill="#fff" stroke="none"/>
<line x1="832.80" y1="966.20" x2="1433.80" y2="966.20" stroke-width="2.6" />
<polygon points="833.40,966.20 891.80,958.33 891.80,974.08" fill="#000" stroke="none"/>
<line x1="642.80" y1="1047.30" x2="1433.80" y2="1047.30" stroke-width="2.6" />
<polygon points="643.70,1047.30 702.00,1039.55 702.00,1055.05" fill="#000" stroke="none"/>
<line x1="541.40" y1="1127.80" x2="1433.80" y2="1127.80" stroke-width="2.6" />
<polygon points="541.20,1127.80 597.50,1120.15 597.50,1135.45" fill="#000" stroke="none"/>
<text transform="translate(1035.60,1025.10)" font-size="84">n<tspan x="46.60" y="11.10" font-size="68.0">a</tspan></text>
<circle cx="1481.90" cy="958.10" r="31.2" stroke-width="3.8" fill="none"/>
<line x1="1449.30" y1="990.10" x2="1514.50" y2="926.10" stroke-width="3.8" />
<circle cx="1481.90" cy="1042.40" r="31.2" stroke-width="3.8" fill="none"/>
<line x1="1449.30" y1="1074.40" x2="1514.50" y2="1010.40" stroke-width="3.8" />
<circle cx="1482.30" cy="1119.00" r="31.2" stroke-width="3.8" fill="none"/>
<line x1="1449.70" y1="1151.00" x2="1514.90" y2="1087.00" stroke-width="3.8" />
<text transform="translate(1540.10,986.90) scale(1,1.04)" font-size="85">D<tspan x="59.50" y="11.92" font-size="66.7">i</tspan></text>
<text transform="translate(1540.10,1071.20) scale(1,1.04)" font-size="85">L<tspan x="56.10" y="13.99" font-size="66.7">a</tspan></text>
<text transform="translate(1540.10,1147.55) scale(1,1.04)" font-size="85">D<tspan x="59.10" y="14.62" font-size="66.7">a</tspan></text>
</svg>
</body></html>
